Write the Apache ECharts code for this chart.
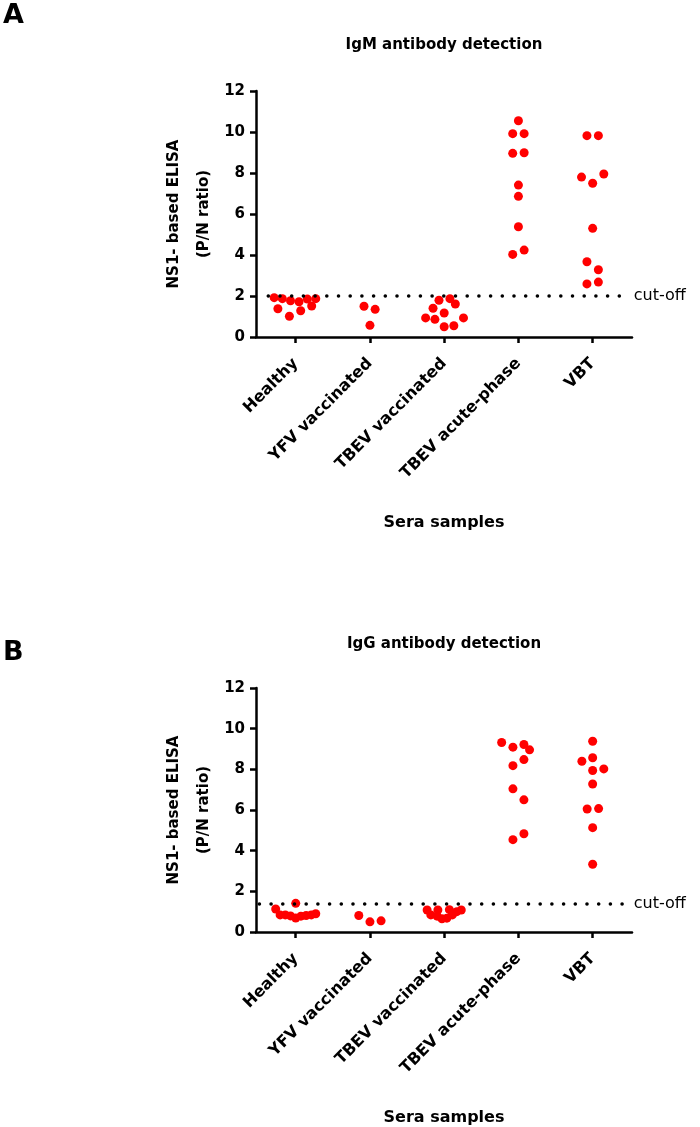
<!DOCTYPE html>
<html>
<head>
<meta charset="utf-8">
<script src="https://cdn.jsdelivr.net/npm/echarts@6/dist/echarts.min.js"></script>
<style>
  html, body { margin: 0; padding: 0; background: #fff; }
  #chart { width: 700px; height: 1127px; }
</style>
</head>
<body>
<div id="chart"></div>
<script>
// groups on the x axis
const categories = ['Healthy', 'YFV vaccinated', 'TBEV vaccinated', 'TBEV acute-phase', 'VBT']

// panel A - IgM, P/N ratio per serum (one list per group)
const igmValues = [
  [1.92, 1.87, 1.38, 1.77, 1.01, 1.72, 1.28, 1.85, 1.51, 1.87],
  [1.50, 1.35, 0.57],
  [0.93, 1.40, 0.86, 1.79, 1.17, 0.50, 1.87, 0.55, 1.61, 0.93],
  [10.55, 9.92, 9.92, 8.96, 8.99, 7.41, 6.86, 5.38, 4.03, 4.24],
  [9.82, 9.82, 7.80, 7.50, 7.95, 5.30, 3.67, 3.28, 2.59, 2.68]
]
// horizontal scatter of each dot around its group (in group units)
const igmJitter = [
  [-0.29, -0.18, -0.24, -0.07, -0.085, 0.045, 0.067, 0.157, 0.215, 0.27],
  [-0.08, 0.07, 0],
  [-0.25, -0.15, -0.125, -0.07, 0, 0, 0.077, 0.13, 0.15, 0.26],
  [0, -0.077, 0.077, -0.077, 0.077, 0, 0, 0, -0.077, 0.077],
  [-0.077, 0.077, -0.15, 0, 0.15, 0, -0.077, 0.077, -0.077, 0.077]
]
const igmCutoff = 2.0

// panel B - IgG
const iggValues = [
  [1.13, 0.84, 0.84, 0.79, 1.41, 0.69, 0.78, 0.81, 0.84, 0.90],
  [0.81, 0.50, 0.55],
  [1.08, 0.84, 1.08, 0.78, 0.65, 0.68, 1.10, 0.84, 1.00, 1.08],
  [9.32, 9.09, 9.22, 8.96, 8.48, 8.18, 7.04, 6.50, 4.54, 4.83],
  [9.38, 8.57, 8.40, 7.94, 8.02, 7.28, 6.05, 6.07, 5.13, 3.33]
]
const iggJitter = [
  [-0.27, -0.21, -0.14, -0.07, 0, 0, 0.07, 0.14, 0.21, 0.27],
  [-0.15, 0, 0.15],
  [-0.23, -0.18, -0.085, -0.095, -0.03, 0.036, 0.07, 0.11, 0.17, 0.23],
  [-0.226, -0.074, 0.074, 0.15, 0.074, -0.074, -0.074, 0.074, -0.074, 0.074],
  [0, 0, -0.145, 0, 0.15, 0, -0.074, 0.08, 0, 0]
]
const iggCutoff = 1.4

const yMax = 12
const yStep = 2

const FONT = 'DejaVu Sans'
const AXIS_W = 2.5

// [x, y] pairs: group index + jitter
function toPoints (values, jitter) {
  const pts = []
  values.forEach(function (list, g) {
    list.forEach(function (v, i) {
      pts.push([g + jitter[g][i], v])
    })
  })
  return pts
}

function makeX (gridIndex) {
  return {
    type: 'value',
    gridIndex: gridIndex,
    min: -0.535,
    max: 4.53,
    name: 'Sera samples',
    nameLocation: 'middle',
    nameGap: 178,
    nameMoveOverlap: false,
    nameTextStyle: { fontFamily: FONT, fontWeight: 'bold', fontSize: 16, color: '#000' },
    axisLine: { onZero: false, lineStyle: { color: '#000', width: AXIS_W } },
    axisTick: { customValues: [0, 1, 2, 3, 4], length: 6, lineStyle: { color: '#000', width: AXIS_W } },
    axisLabel: {
      customValues: [0, 1, 2, 3, 4],
      rotate: 45,
      margin: 24,
      fontFamily: FONT,
      fontWeight: 'bold',
      fontSize: 16,
      color: '#000',
      formatter: function (v) { return categories[Math.round(v)] }
    },
    splitLine: { show: false }
  }
}

function makeY (gridIndex) {
  return {
    type: 'value',
    gridIndex: gridIndex,
    min: 0,
    max: yMax,
    interval: yStep,
    name: 'NS1- based ELISA\n(P/N ratio)',
    nameLocation: 'middle',
    nameRotate: 90,
    nameGap: 37,
    nameMoveOverlap: false,
    nameTextStyle: { fontFamily: FONT, fontWeight: 'bold', fontSize: 15, color: '#000', lineHeight: 30 },
    axisLine: { show: true, onZero: false, lineStyle: { color: '#000', width: AXIS_W } },
    axisTick: { show: true, length: 6, lineStyle: { color: '#000', width: AXIS_W } },
    axisLabel: { margin: 11, fontFamily: FONT, fontWeight: 'bold', fontSize: 15, color: '#000' },
    splitLine: { show: false }
  }
}

function makeSeries (idx, values, jitter, cutoff, lineStart) {
  return {
    type: 'scatter',
    xAxisIndex: idx,
    yAxisIndex: idx,
    symbolSize: 9,
    itemStyle: { color: '#ff0000', opacity: 1 },
    data: toPoints(values, jitter),
    markLine: {
      silent: true,
      symbol: 'none',
      animation: false,
      lineStyle: { type: [0.1, 11.6], cap: 'round', width: 3.5, color: '#000' },
      label: {
        show: true,
        position: 'end',
        distance: 7,
        formatter: 'cut-off',
        fontFamily: FONT,
        fontSize: 16,
        color: '#000'
      },
      data: [[{ coord: [lineStart, cutoff] }, { coord: [4.46, cutoff] }]]
    }
  }
}

const chart = echarts.init(document.getElementById('chart'))

const titleStyle = { fontFamily: FONT, fontWeight: 'bold', fontSize: 15, color: '#000' }
const letterStyle = { fontFamily: FONT, fontWeight: 'bold', fontSize: 27, color: '#000' }

const option = {
  animation: false,
  backgroundColor: '#fff',
  title: [
    { text: 'A', left: 3, top: 2, padding: 0, textStyle: letterStyle },
    { text: 'B', left: 3, top: 639, padding: 0, textStyle: letterStyle },
    { text: 'IgM antibody detection', left: 444, top: 38, padding: 0, textAlign: 'center', textStyle: titleStyle },
    { text: 'IgG antibody detection', left: 444, top: 637, padding: 0, textAlign: 'center', textStyle: titleStyle }
  ],
  grid: [
    { left: 256, top: 91, width: 376, height: 246 },
    { left: 256, top: 688, width: 376, height: 247 }
  ],
  xAxis: [makeX(0), makeX(1)],
  yAxis: [makeY(0), makeY(1)],
  series: [
    makeSeries(0, igmValues, igmJitter, igmCutoff, -0.37),
    makeSeries(1, iggValues, iggJitter, iggCutoff, -0.49)
  ]
}

chart.setOption(option)
</script>
</body>
</html>
